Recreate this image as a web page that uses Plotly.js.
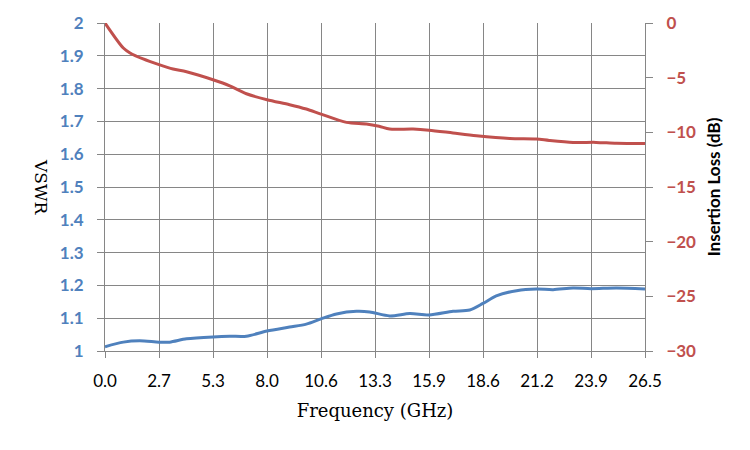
<!DOCTYPE html>
<html>
<head>
<meta charset="utf-8">
<script src="https://cdn.plot.ly/plotly-3.0.1.min.js"></script>
<style>html,body{margin:0;padding:0;background:#fff}#chart{width:750px;height:450px}</style>
</head>
<body>
<div id="chart"></div>
<script>
const freqIL = [0, 0.9, 1.23, 1.87, 2.65, 3.34, 4.0, 5.3, 6.12, 6.94, 7.95, 9.06, 9.88, 10.6, 11.85, 12.83, 13.45, 13.97, 15.12, 15.9, 17.08, 18.23, 19.86, 21.17, 21.8, 22.97, 24.1, 25.1, 26.5];
const insertionLoss = [0, -2.29, -2.74, -3.29, -3.81, -4.21, -4.46, -5.19, -5.74, -6.47, -7.02, -7.47, -7.87, -8.33, -9.09, -9.24, -9.45, -9.70, -9.70, -9.80, -10.06, -10.31, -10.56, -10.61, -10.74, -10.92, -10.92, -11.0, -11.02];
const freqV = [0, 0.9, 1.7, 2.65, 3.17, 4.0, 5.3, 6.12, 6.94, 7.95, 9.06, 9.88, 10.6, 11.36, 12.34, 12.99, 13.97, 14.96, 15.9, 17.08, 17.9, 18.55, 19.2, 20.2, 21.17, 21.99, 22.97, 23.85, 25.1, 26.5];
const vswr = [1.013, 1.027, 1.031, 1.027, 1.027, 1.037, 1.043, 1.045, 1.045, 1.061, 1.073, 1.082, 1.098, 1.113, 1.121, 1.119, 1.107, 1.114, 1.110, 1.121, 1.125, 1.145, 1.168, 1.184, 1.189, 1.187, 1.192, 1.190, 1.192, 1.189];
const xTickVals = [0, 2.65, 5.3, 7.95, 10.6, 13.25, 15.9, 18.55, 21.2, 23.85, 26.5];
const xTickText = ['0.0', '2.7', '5.3', '8.0', '10.6', '13.3', '15.9', '18.6', '21.2', '23.9', '26.5'];
const vswrTicks = [1, 1.1, 1.2, 1.3, 1.4, 1.5, 1.6, 1.7, 1.8, 1.9, 2];
const vswrTickText = ['1', '1.1', '1.2', '1.3', '1.4', '1.5', '1.6', '1.7', '1.8', '1.9', '2'];
const ilTicks = [-30, -25, -20, -15, -10, -5, 0];

const grid = '#868686';
const serif = '"DejaVu Serif", "Liberation Serif", serif';
const traces = [
  {x: freqV, y: vswr, type: 'scatter', mode: 'lines', yaxis: 'y',
   line: {color: '#4F81BD', width: 3, shape: 'spline', smoothing: 0.8}, hoverinfo: 'skip'},
  {x: freqIL, y: insertionLoss, type: 'scatter', mode: 'lines', yaxis: 'y2',
   line: {color: '#C0504D', width: 3, shape: 'spline', smoothing: 0.8}, hoverinfo: 'skip'}
];
const layout = {
  width: 750, height: 450,
  margin: {l: 105, r: 105, t: 23, b: 99},
  paper_bgcolor: '#fff', plot_bgcolor: '#fff',
  showlegend: false,
  xaxis: {
    range: [0, 26.5], tickmode: 'array', tickvals: xTickVals, ticktext: xTickText,
    showgrid: true, gridcolor: grid, gridwidth: 1,
    showline: true, linecolor: grid, linewidth: 1, mirror: false,
    ticks: 'outside', ticklen: 6, tickcolor: grid, zeroline: false,
    ticklabelstandoff: 9,
    tickfont: {family: 'Lato, "Open Sans", sans-serif', size: 17, color: '#000'},
    title: {text: 'Frequency (GHz)', font: {family: serif, size: 18, color: '#000'}, standoff: 13}
  },
  yaxis: {
    range: [1, 2], tickmode: 'array', tickvals: vswrTicks, ticktext: vswrTickText,
    showgrid: true, gridcolor: grid, gridwidth: 1,
    showline: true, linecolor: grid, linewidth: 1,
    ticks: 'outside', ticklen: 7, tickcolor: grid, zeroline: false,
    ticklabelstandoff: 10,
    tickfont: {family: 'Lato, "Open Sans", sans-serif', size: 17, color: '#4F81BD', weight: 'bold'}
  },
  yaxis2: {
    range: [-30, 0], overlaying: 'y', side: 'right', tickmode: 'array', tickvals: ilTicks,
    showgrid: false, showline: true, linecolor: grid, linewidth: 1,
    ticks: 'outside', ticklen: 7, tickcolor: grid, zeroline: false,
    ticklabelstandoff: 10,
    tickfont: {family: 'Lato, "Open Sans", sans-serif', size: 17, color: '#C0504D', weight: 'bold'},
    title: {text: 'Insertion Loss (dB)', font: {family: 'Lato, "Open Sans", sans-serif', size: 17, color: '#000', weight: 'bold'}, standoff: 12}
  },
  annotations: [{
    text: 'VSWR', xref: 'paper', yref: 'paper', x: 0, y: 0.5, xshift: -76,
    showarrow: false, textangle: 90,
    font: {family: serif, size: 17, color: '#000'}
  }]
};
Plotly.newPlot('chart', traces, layout, {staticPlot: true, displayModeBar: false});
</script>
</body>
</html>
